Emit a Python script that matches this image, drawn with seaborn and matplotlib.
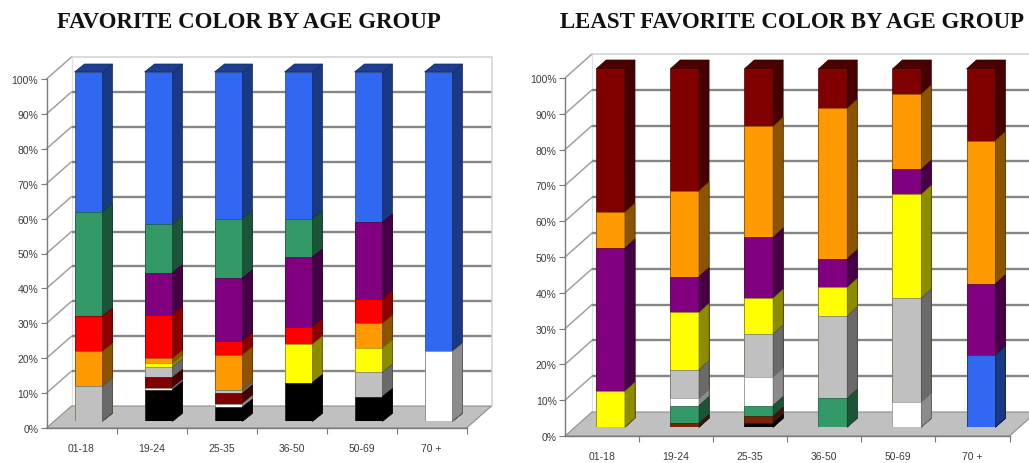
import numpy as np
import pandas as pd
import matplotlib
matplotlib.use("Agg")
import matplotlib.pyplot as plt
from matplotlib.patches import Polygon
from matplotlib.colors import to_rgb
from matplotlib.ticker import FixedLocator, FuncFormatter
import seaborn as sns

# ---------------------------------------------------------------- data
age_groups = ["01-18", "19-24", "25-35", "36-50", "50-69", "70 +"]

# favourite colour, stacked bottom -> top (percent of each age group)
fav_black = [0, 9, 4, 11, 7, 0]
fav_white = [0, 0.5, 1, 0, 0, 20]
fav_maroon = [0, 3, 3, 0, 0, 0]
fav_gray = [10, 3, 1, 0, 7, 0]
fav_yellow = [0, 1, 0, 11, 7, 0]
fav_orange = [10, 1.5, 10, 0, 7, 0]
fav_red = [10, 12.5, 4, 5, 7, 0]
fav_purple = [0, 12, 18, 20, 22, 0]
fav_green = [30, 14, 17, 11, 0, 0]
fav_blue = [40, 43.5, 42, 42, 43, 80]

# least favourite colour, stacked bottom -> top
least_blue = [0, 0, 0, 0, 0, 20]
least_black = [0, 0, 1, 0, 0, 0]
least_brown = [0, 1, 2, 0, 0, 0]
least_green = [0, 5, 3, 8, 0, 0]
least_white = [0, 2, 8, 0, 7, 0]
least_gray = [0, 8, 12, 23, 29, 0]
least_yellow = [10, 16, 10, 8, 29, 0]
least_purple = [40, 10, 17, 8, 7, 20]
least_orange = [10, 24, 31, 42, 21, 40]
least_maroon = [40, 34, 16, 11, 7, 20]

COLORS = {
    "blue": "#3068f2", "green": "#339966", "red": "#ff0000",
    "orange": "#ff9900", "yellow": "#ffff00", "purple": "#800080",
    "maroon": "#800000", "black": "#000000", "white": "#ffffff",
    "gray": "#c0c0c0", "brown": "#7a2408",
}

fav_series = [
    ("black", fav_black), ("white", fav_white), ("maroon", fav_maroon),
    ("gray", fav_gray), ("yellow", fav_yellow), ("orange", fav_orange),
    ("red", fav_red), ("purple", fav_purple), ("green", fav_green),
    ("blue", fav_blue),
]
least_series = [
    ("blue", least_blue), ("black", least_black), ("brown", least_brown),
    ("green", least_green), ("white", least_white), ("gray", least_gray),
    ("yellow", least_yellow), ("purple", least_purple),
    ("orange", least_orange), ("maroon", least_maroon),
]

# ---------------------------------------------------------------- figure
sns.set_style("white")
plt.rcParams["font.family"] = ["Liberation Sans", "DejaVu Sans"]

W, H, DPI = 1029, 464, 100
fig = plt.figure(figsize=(W / DPI, H / DPI), dpi=DPI)
fig.patch.set_facecolor("white")


def box(left, top, right, bottom):
    """Pixel box (origin top-left) -> figure fraction rectangle."""
    return [left / W, 1 - bottom / H, (right - left) / W, (bottom - top) / H]


def shade(color, k):
    r, g, b = to_rgb(color)
    return (r * k, g * k, b * k)


def draw_panel(series, title, title_x, plane, front_off, wall_off, depth, bar_w):
    # plane = (x_left, x_right, y_zero, y_hundred) in pixels for the bar faces
    xl, xr, y0, y100 = plane
    fdx, fdy = front_off
    n = len(age_groups)
    ux = (xr - xl) / n          # pixels per category unit
    uy = (y0 - y100) / 100.0    # pixels per percent

    # front plane: axis lines, ticks, floor and walls
    axf = fig.add_axes(box(xl + fdx, y100 + fdy, xr + fdx, y0 + fdy))
    axf.set_xlim(-0.5, n - 0.5)
    axf.set_ylim(0, 100)
    axf.patch.set_alpha(0)
    for s in ("top", "right"):
        axf.spines[s].set_visible(False)
    axf.spines["left"].set_color("#7a7a7a")
    axf.spines["bottom"].set_color("#7a7a7a")
    axf.spines["left"].set_linewidth(1.0)
    axf.spines["bottom"].set_linewidth(1.0)

    wdx, wdy = wall_off[0] / ux, wall_off[1] / uy
    lo, hi = -0.5, n - 0.5

    floor = Polygon([(lo, 0), (hi, 0), (hi + wdx, wdy), (lo + wdx, wdy)],
                    closed=True, facecolor="#c0c0c0", edgecolor="#8c8c8c",
                    linewidth=0.8, clip_on=False, zorder=1)
    axf.add_patch(floor)
    for v in range(10, 100, 10):
        axf.plot([lo + wdx, hi + wdx], [v + wdy, v + wdy], color="#858585",
                 lw=1.7, clip_on=False, zorder=0.5, solid_capstyle="butt")
    for v in range(10, 110, 10):
        axf.plot([lo, lo + wdx], [v, v + wdy], color="#a0a0a0", lw=1.1,
                 clip_on=False, zorder=0.5)
    axf.plot([lo + wdx, hi + wdx, hi + wdx], [100 + wdy, 100 + wdy, wdy],
             color="#d4d4d4", lw=1.2, clip_on=False, zorder=0.5)
    axf.plot([lo + wdx, lo + wdx], [wdy, 100 + wdy], color="#e2e2e2", lw=1.0,
             clip_on=False, zorder=0.4)

    axf.yaxis.set_major_locator(FixedLocator(np.arange(0, 101, 10)))
    axf.yaxis.set_major_formatter(FuncFormatter(lambda v, p: f"{int(v)}%"))
    axf.set_xticks(range(n))
    axf.set_xticklabels(age_groups)
    axf.set_xticks(np.arange(0.5, n, 1.0), minor=True)
    axf.tick_params(axis="y", which="major", direction="out", length=4,
                    width=0.8, color="#7a7a7a", labelsize=7.5,
                    labelcolor="#3c3c3c", pad=2, left=True)
    axf.tick_params(axis="x", which="major", length=0, labelsize=7.5,
                    labelcolor="#3c3c3c", pad=11)
    axf.tick_params(axis="x", which="minor", direction="out", length=4,
                    width=0.8, color="#7a7a7a", bottom=True)
    axf.set_xlabel("")
    axf.set_ylabel("")

    # bar plane: stacked 3-D columns
    ax = fig.add_axes(box(xl, y100, xr, y0))
    ax.patch.set_alpha(0)
    ddx, ddy = depth[0] / ux, depth[1] / uy

    heights = np.array([vals for _, vals in series], dtype=float)
    cums = np.cumsum(heights, axis=0)
    for k in range(len(series) - 1, -1, -1):
        name = series[k][0]
        col = COLORS[name]
        edge = shade(col, 0.6) if name != "black" else "#222222"
        df = pd.DataFrame({"age": age_groups, "pct": cums[k]})
        sns.barplot(data=df, x="age", y="pct", color=col, saturation=1,
                    width=bar_w, errorbar=None, edgecolor=edge,
                    linewidth=0.5, ax=ax)
        for i, c in enumerate(cums[k]):
            if c <= 0:
                continue
            x_r = i + bar_w / 2
            side = Polygon([(x_r, 0), (x_r, c), (x_r + ddx, c + ddy),
                            (x_r + ddx, ddy)], closed=True,
                           facecolor=shade(col, 0.55),
                           edgecolor=shade(col, 0.4), linewidth=0.5,
                           clip_on=False)
            ax.add_patch(side)
            if k == len(series) - 1:
                x_l = i - bar_w / 2
                top = Polygon([(x_l, c), (x_r, c), (x_r + ddx, c + ddy),
                               (x_l + ddx, c + ddy)], closed=True,
                              facecolor=shade(col, 0.6),
                              edgecolor=shade(col, 0.4), linewidth=0.5,
                              clip_on=False)
                ax.add_patch(top)
    ax.set_xlim(-0.5, n - 0.5)
    ax.set_ylim(0, 100)
    ax.axis("off")

    fig.text(title_x / W, 1 - 22 / H, title, ha="center", va="center",
             fontfamily="Liberation Serif", fontweight="bold", fontsize=16.5,
             color="#111111")


draw_panel(fav_series, "FAVORITE COLOR BY AGE GROUP", 248.5,
           plane=(53.5, 473.5, 422, 73), front_off=(-7, 7),
           wall_off=(25, 22), depth=(10, 8), bar_w=0.4)
draw_panel(least_series, "LEAST FAVORITE COLOR BY AGE GROUP", 791.5,
           plane=(573.5, 1018.0, 428, 70), front_off=(-8.5, 9),
           wall_off=(27, 24), depth=(10, 9), bar_w=0.39)

fig.savefig("out.png", dpi=DPI, facecolor="white")
